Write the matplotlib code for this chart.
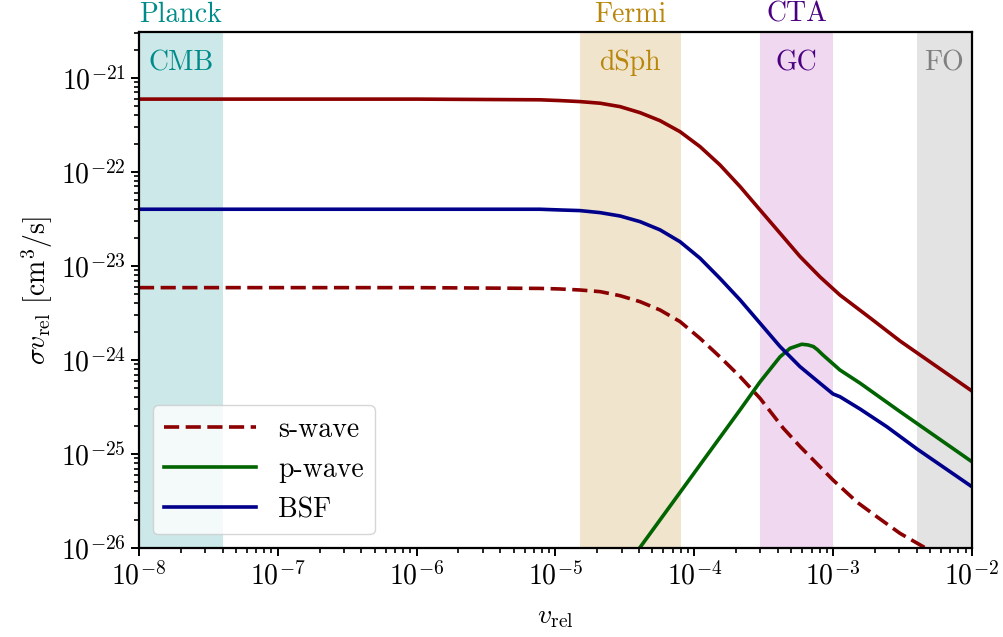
import numpy as np
import matplotlib
matplotlib.use("Agg")
import matplotlib.pyplot as plt
import matplotlib.ticker as mticker
import matplotlib.transforms as mtransforms

plt.rcParams['font.family'] = 'serif'
plt.rcParams['font.serif'] = ['cmr10']
plt.rcParams['mathtext.fontset'] = 'cm'
plt.rcParams['axes.formatter.use_mathtext'] = True
plt.rcParams['font.size'] = 20

# total annihilation (solid dark red)
v_tot = [1e-8, 1e-6, 7.74e-6, 1.08e-5, 1.50e-5, 2.10e-5, 2.92e-5, 4.07e-5, 5.67e-5, 7.90e-5,
         1.10e-4, 1.53e-4, 2.14e-4, 2.98e-4, 4.15e-4, 5.78e-4, 8.06e-4, 1.12e-3, 1.85e-3, 3.04e-3, 1e-2]
sv_tot = [5.95e-22, 5.95e-22, 5.85e-22, 5.74e-22, 5.60e-22, 5.38e-22, 4.95e-22, 4.27e-22, 3.51e-22, 2.68e-22,
          1.86e-22, 1.19e-22, 6.98e-23, 3.94e-23, 2.23e-23, 1.26e-23, 7.64e-24, 4.91e-24, 2.80e-24, 1.59e-24, 4.68e-25]

# s-wave (dashed)
v_s = [1e-8, 1e-6, 7.74e-6, 1.08e-5, 1.50e-5, 2.10e-5, 2.92e-5, 4.07e-5, 5.67e-5, 7.90e-5,
       1.10e-4, 1.53e-4, 2.14e-4, 2.98e-4, 4.38e-4, 5.79e-4, 1.0e-3, 1.5e-3, 2.07e-3, 3.04e-3, 4.48e-3, 6.31e-3]
sv_s = [5.88e-24, 5.88e-24, 5.77e-24, 5.69e-24, 5.55e-24, 5.33e-24, 4.83e-24, 4.17e-24, 3.40e-24, 2.56e-24,
        1.70e-24, 1.08e-24, 6.64e-25, 3.91e-25, 1.88e-25, 1.20e-25, 5.28e-26, 3.05e-26, 2.15e-26, 1.43e-26, 1.03e-26, 7.2e-27]

# p-wave
v_p = [3.55e-5, 4.06e-5, 7.90e-5, 1.16e-4, 2.14e-4, 2.98e-4, 4.15e-4, 4.90e-4, 5.95e-4, 6.6e-4,
       7.21e-4, 7.7e-4, 8.4e-4, 9.01e-4, 1.12e-3, 1.57e-3, 2.18e-3, 3.04e-3, 1e-2]
sv_p = [7.9e-27, 1.01e-26, 3.90e-26, 8.52e-26, 2.95e-25, 5.85e-25, 1.08e-24, 1.33e-24, 1.47e-24, 1.445e-24,
        1.39e-24, 1.29e-24, 1.14e-24, 1.04e-24, 7.83e-25, 5.65e-25, 4.0e-25, 2.82e-25, 8.28e-26]

# bound state formation
v_b = [1e-8, 1e-6, 7.74e-6, 1.08e-5, 1.50e-5, 2.10e-5, 2.92e-5, 4.07e-5, 5.67e-5, 7.90e-5,
       1.10e-4, 1.53e-4, 2.14e-4, 2.98e-4, 4.15e-4, 5.78e-4, 8.06e-4, 1.0e-3, 1.12e-3, 1.57e-3, 2.44e-3,
       4.03e-3, 1e-2]
sv_b = [4.01e-23, 4.01e-23, 4.01e-23, 3.94e-23, 3.88e-23, 3.69e-23, 3.40e-23, 2.96e-23, 2.42e-23, 1.81e-23,
        1.21e-23, 7.39e-24, 4.35e-24, 2.46e-24, 1.39e-24, 8.49e-25, 5.65e-25, 4.35e-25, 4.07e-25, 3.0e-25, 1.95e-25,
        1.13e-25, 4.49e-26]

# velocity regions
band_lo = [1e-8, 1.5e-5, 3e-4, 4e-3]
band_hi = [4e-8, 8e-5, 1e-3, 1e-2]
band_top = ['Planck', 'Fermi', 'CTA', '']
band_in = ['CMB', 'dSph', 'GC', 'FO']
band_txt = ['darkcyan', 'darkgoldenrod', 'indigo', 'gray']
band_fill = ['#cce8e8', '#f0e4cc', '#f0d8f0', '#e3e3e3']

fig = plt.figure(figsize=(10.04, 6.37), dpi=100)
ax = fig.add_axes([0.1384, 0.1397, 0.8296, 0.8101])

trans = mtransforms.blended_transform_factory(ax.transData, ax.transAxes)
for lo, hi, t1, t2, tc, fc in zip(band_lo, band_hi, band_top, band_in, band_txt, band_fill):
    ax.axvspan(lo, hi, color=fc, lw=0, zorder=0)
    xc = np.sqrt(lo * hi)
    if t1:
        ax.text(xc, 1.02, t1, color=tc, ha='center', va='baseline', transform=trans, clip_on=False)
    ax.text(xc, 0.926, t2, color=tc, ha='center', va='baseline', transform=trans)

ax.plot(v_tot, sv_tot, color='darkred', lw=2.6)
ax.plot(v_s, sv_s, color='darkred', lw=2.6, ls='--', dashes=(4.2, 1.8), label='s-wave')
ax.plot(v_p, sv_p, color='darkgreen', lw=2.6, label='p-wave')
ax.plot(v_b, sv_b, color='darkblue', lw=2.6, label='BSF')

ax.set_xscale('log')
ax.set_yscale('log')
ax.set_xlim(1e-8, 1e-2)
ax.set_ylim(1e-26, 3.08e-21)

ax.set_xlabel(r'$v_{\rm rel}$', labelpad=10)
ax.set_ylabel(r'$\sigma v_{\rm rel}$ [cm$^3$/s]')

for s in ax.spines.values():
    s.set_linewidth(1.6)
ax.tick_params(which='major', length=6, width=1.4, direction='out')
ax.tick_params(which='minor', length=3.5, width=1.2, direction='out')
ax.xaxis.set_major_locator(mticker.LogLocator(base=10, numticks=20))
ax.yaxis.set_major_locator(mticker.LogLocator(base=10, numticks=20))
ax.xaxis.set_minor_locator(mticker.LogLocator(base=10, subs=np.arange(2, 10), numticks=20))
ax.yaxis.set_minor_locator(mticker.LogLocator(base=10, subs=np.arange(2, 10), numticks=20))
ax.xaxis.set_minor_formatter(mticker.NullFormatter())
ax.yaxis.set_minor_formatter(mticker.NullFormatter())

ax.legend(loc='lower left', handlelength=3.3, handletextpad=0.8)

fig.savefig('out.png', dpi=100)
